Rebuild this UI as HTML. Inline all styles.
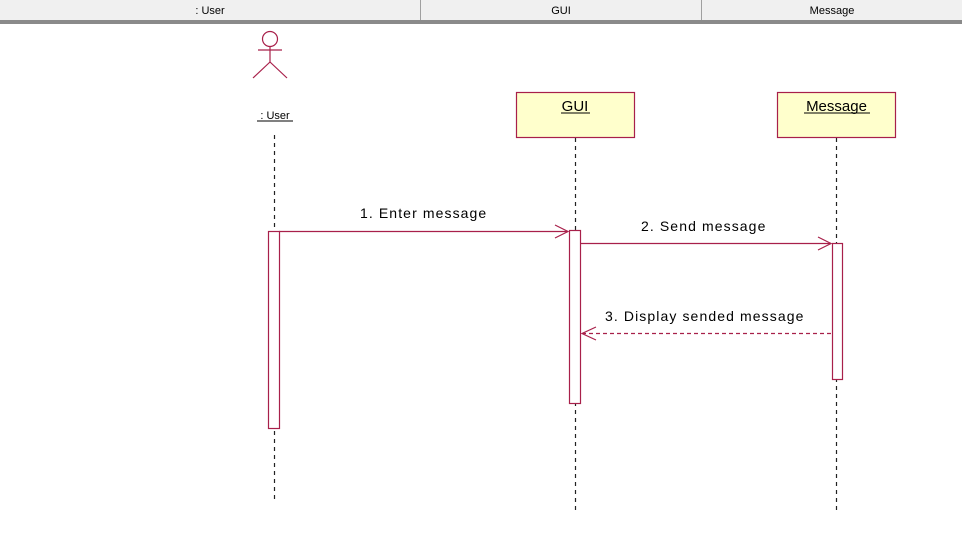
<!DOCTYPE html>
<html><head><meta charset="utf-8"><style>
html,body{margin:0;padding:0;background:#fff;width:962px;height:559px;overflow:hidden}
svg{display:block;font-family:"Liberation Sans",Arial,sans-serif}
</style></head><body>
<svg width="962" height="559" viewBox="0 0 962 559" xmlns="http://www.w3.org/2000/svg">
<rect x="0" y="0" width="962" height="20" fill="#f0f0f0"/>
<rect x="0" y="20" width="962" height="4" fill="#8a8a8a"/>
<line x1="420.5" y1="0" x2="420.5" y2="20" stroke="#a0a0a0"/>
<line x1="701.5" y1="0" x2="701.5" y2="20" stroke="#a0a0a0"/>
<g font-size="11" fill="#000" text-anchor="middle">
<text x="210" y="14">: User</text>
<text x="561" y="14">GUI</text>
<text x="832" y="14">Message</text>
</g>
<g stroke="#a8204a" stroke-width="1.2" fill="none">
<circle cx="270" cy="39" r="7.5"/>
<line x1="270" y1="46.5" x2="270" y2="62"/>
<line x1="258" y1="50" x2="282" y2="50"/>
<line x1="270" y1="62" x2="253" y2="78"/>
<line x1="270" y1="62" x2="287" y2="78"/>
</g>
<text x="275" y="119" font-size="11" text-anchor="middle" fill="#000">: User</text>
<line x1="257" y1="121" x2="293" y2="121" stroke="#000"/>
<g stroke="#222" stroke-width="1.2" stroke-dasharray="4,4">
<line x1="274.5" y1="135" x2="274.5" y2="500"/>
<line x1="575.5" y1="138" x2="575.5" y2="510"/>
<line x1="836.5" y1="138" x2="836.5" y2="510"/>
</g>
<rect x="516.5" y="92.5" width="118" height="45" fill="#ffffcc" stroke="#a8204a" stroke-width="1.2"/>
<rect x="777.5" y="92.5" width="118" height="45" fill="#ffffcc" stroke="#a8204a" stroke-width="1.2"/>
<text x="575" y="111" font-size="15" text-anchor="middle">GUI</text>
<line x1="561" y1="113" x2="590" y2="113" stroke="#000"/>
<text x="836.5" y="111" font-size="15" text-anchor="middle">Message</text>
<line x1="804" y1="113" x2="870" y2="113" stroke="#000"/>
<g stroke="#a8204a" stroke-width="1.2" fill="#fff">
<rect x="268.5" y="231.5" width="11" height="197"/>
<rect x="569.5" y="230.5" width="11" height="173"/>
<rect x="832.5" y="243.5" width="10" height="136"/>
</g>
<g stroke="#a8204a" stroke-width="1.2" fill="none">
<line x1="279" y1="231.5" x2="568" y2="231.5"/>
<polyline points="555,225 568,231.5 555,238"/>
<line x1="580" y1="243.5" x2="831" y2="243.5"/>
<polyline points="818,237 831,243.5 818,250"/>
<line x1="831" y1="333.5" x2="583" y2="333.5" stroke-dasharray="4,3"/>
<polyline points="596,327 582,333.5 596,340"/>
</g>
<g font-size="14" fill="#000" letter-spacing="1.1">
<text x="360" y="218">1. Enter message</text>
<text x="641" y="231">2. Send message</text>
<text x="605" y="321">3. Display sended message</text>
</g>
</svg>
</body></html>
